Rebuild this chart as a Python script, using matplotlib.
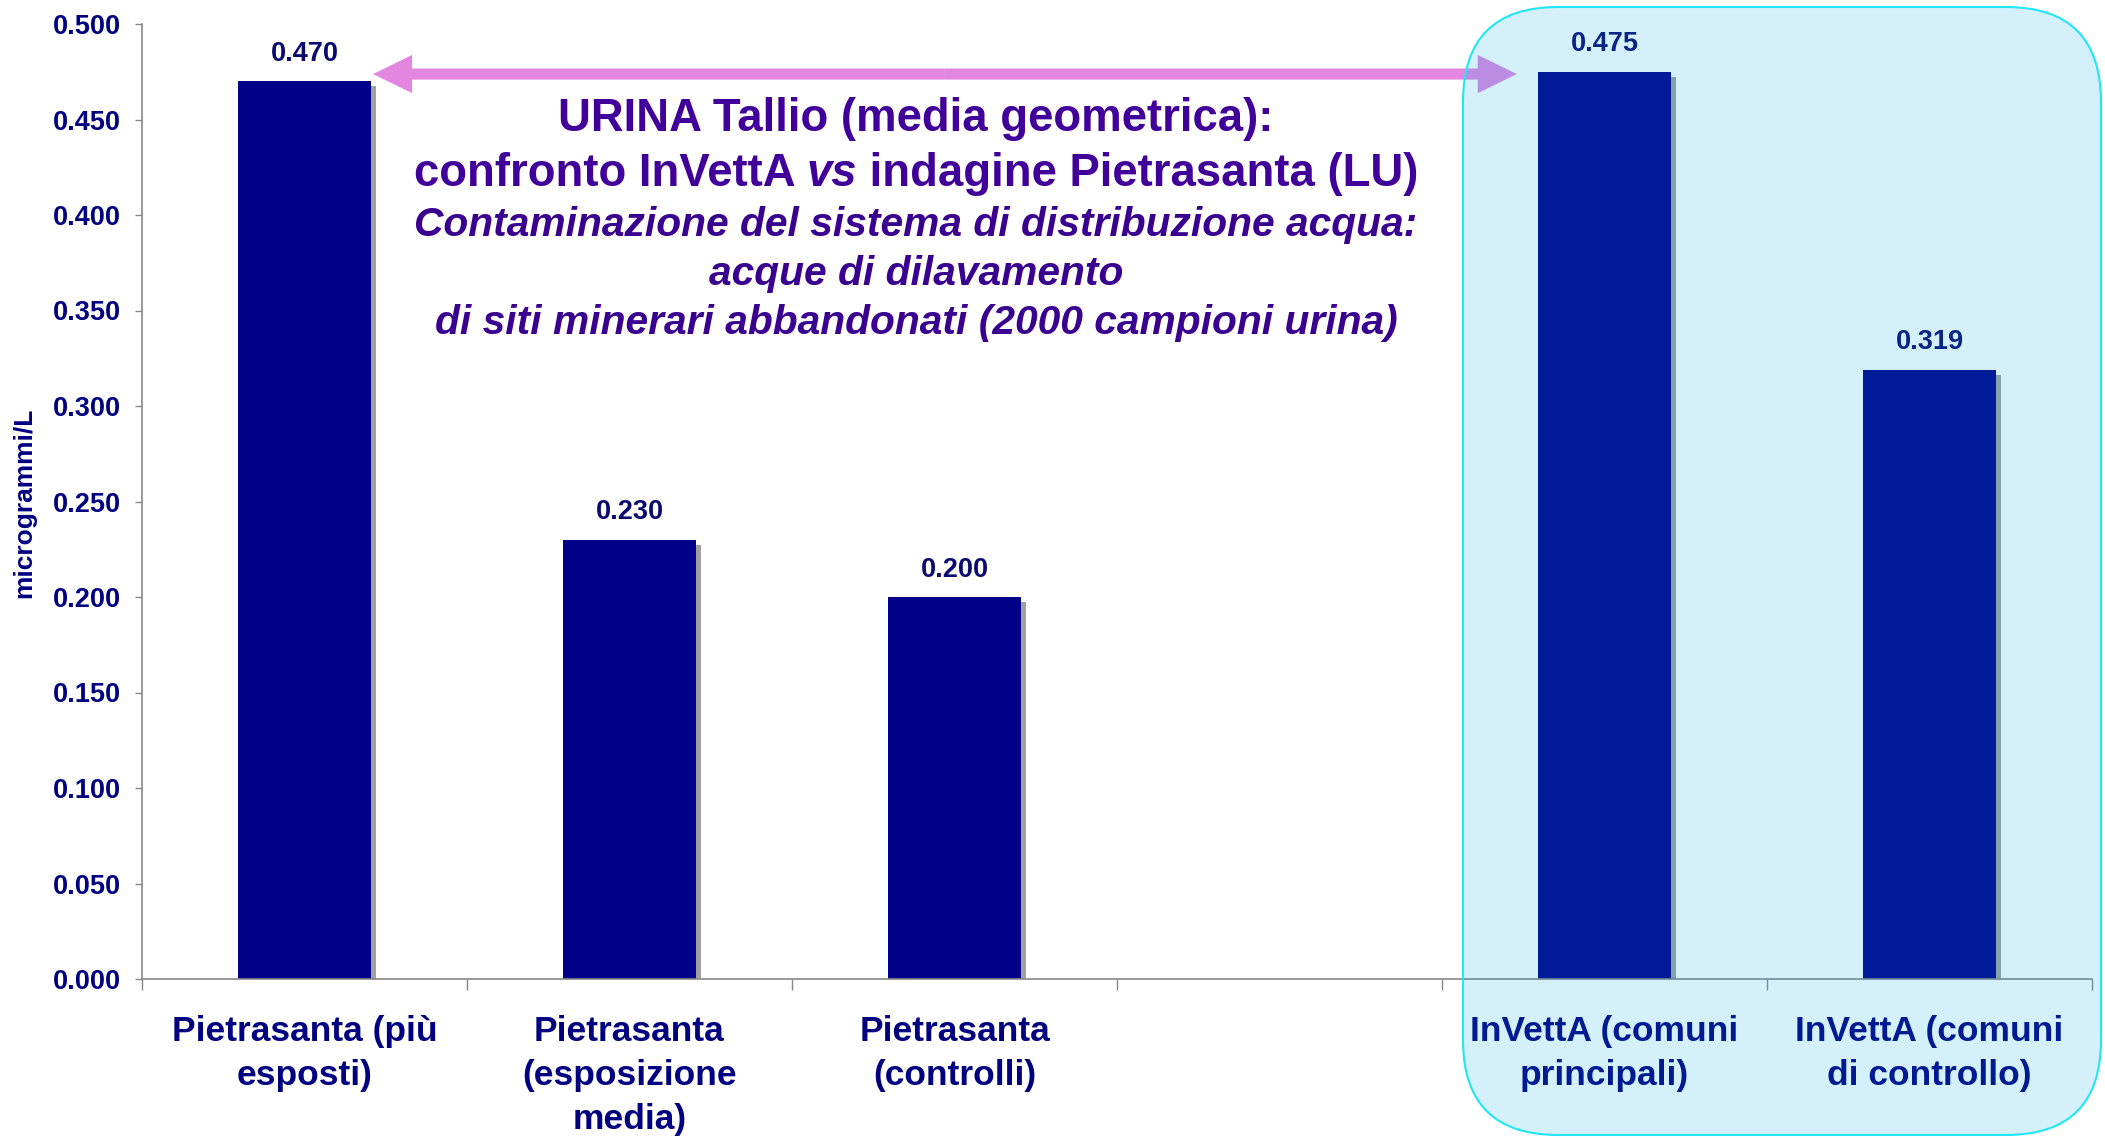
import numpy as np
import matplotlib
matplotlib.use("Agg")
import matplotlib.pyplot as plt
import matplotlib.patheffects as pe
from matplotlib.patches import FancyArrow, FancyBboxPatch
from matplotlib.transforms import IdentityTransform

plt.rcParams['font.family'] = ['Liberation Sans', 'DejaVu Sans']

# data
categories = ["Pietrasanta (più\nesposti)", "Pietrasanta\n(esposizione\nmedia)",
              "Pietrasanta\n(controlli)", "",
              "InVettA (comuni\nprincipali)", "InVettA (comuni\ndi controllo)"]
values = [0.470, 0.230, 0.200, np.nan, 0.475, 0.319]
yticks = [0.000, 0.050, 0.100, 0.150, 0.200, 0.250, 0.300, 0.350, 0.400, 0.450, 0.500]

navy = '#000088'
label_col = '#000080'
purple = '#400099'
W, H = 2105, 1138

fig = plt.figure(figsize=(W / 100, H / 100), dpi=100)
ax = fig.add_axes([142 / W, 159 / H, 1950 / W, 955 / H])

x = np.arange(len(categories))
bars = ax.bar(x, values, width=0.41, color=navy, zorder=2)
for b in bars:
    b.set_path_effects([pe.SimplePatchShadow(offset=(3.5, -3.5), shadow_rgbFace='#a0a0a0', alpha=1.0),
                        pe.Normal()])

for xi, v in zip(x, values):
    if np.isnan(v):
        continue
    ax.text(xi, v + 0.0075, f"{v:.3f}", ha='center', va='bottom', fontsize=19.5,
            fontweight='bold', color='#0a0a70', zorder=5)

ax.set_xlim(-0.5, len(categories) - 0.5)
ax.set_ylim(0, 0.5)
ax.set_yticks(yticks)
ax.set_yticklabels([f"{t:.3f}" for t in yticks])
ax.set_xticks(x)
ax.set_xticklabels(categories)
ax.set_xticks(np.arange(len(categories) + 1) - 0.5, minor=True)

for s in ['top', 'right']:
    ax.spines[s].set_visible(False)
for s in ['left', 'bottom']:
    ax.spines[s].set_color('#888888')
    ax.spines[s].set_linewidth(1.2)

ax.tick_params(axis='y', length=5, width=1, color='#888888', pad=10,
               labelsize=19.5, labelcolor=label_col)
ax.tick_params(axis='x', which='major', length=0, pad=26, labelsize=25.5,
               labelcolor=label_col)
ax.tick_params(axis='x', which='minor', length=8, width=1, color='#888888')
for lab in ax.get_yticklabels() + ax.get_xticklabels():
    lab.set_fontweight('bold')
for lab in ax.get_xticklabels():
    lab.set_linespacing(1.42)

fig.text(24 / W, 1 - 503 / H, "microgrammi/L", rotation=90, ha='center', va='center',
         fontsize=19, fontweight='bold', color=label_col)

# double arrow between the two high bars
ay = 0.4738
x_left, x_right = 0.211, 3.73
mid = (x_left + x_right) / 2
for end in (x_left, x_right):
    ax.add_patch(FancyArrow(mid, ay, end - mid, 0, width=0.0058, head_width=0.020,
                            head_length=0.12, length_includes_head=True,
                            color='#e386e0', lw=0, zorder=3, clip_on=False))

# title block
cx = 916
fig.text(cx / W, 1 - 119 / H, "URINA Tallio (media geometrica):", ha='center', va='center',
         fontsize=32.8, fontweight='bold', color=purple)

pieces = [("confronto InVettA ", 'normal'), ("vs", 'italic'), (" indagine Pietrasanta (LU)", 'normal')]
renderer = fig.canvas.get_renderer()
txts = []
for s, st in pieces:
    t = fig.text(0, 1 - 174 / H, s, ha='left', va='center', fontsize=32.8,
                 fontweight='bold', style=st, color=purple)
    txts.append(t)
widths = [t.get_window_extent(renderer).width for t in txts]
xpos = cx - sum(widths) / 2
for t, w in zip(txts, widths):
    t.set_x(xpos / W)
    xpos += w

for s, yy in [("Contaminazione del sistema di distribuzione acqua:", 225),
              ("acque di dilavamento", 274),
              ("di siti minerari abbandonati (2000 campioni urina)", 323)]:
    fig.text(cx / W, 1 - yy / H, s, ha='center', va='center', fontsize=29.3,
             fontweight='bold', style='italic', color='#3a0090')

# light blue rounded box around InVettA bars
box = FancyBboxPatch((1463, 3), 638, 1128, boxstyle="round,pad=0,rounding_size=95",
                     transform=IdentityTransform(), facecolor=(0.0, 0.65, 0.93, 0.17),
                     edgecolor='#22e5f5', lw=1.5, zorder=1)
fig.add_artist(box)

fig.savefig('out.png', dpi=100)
